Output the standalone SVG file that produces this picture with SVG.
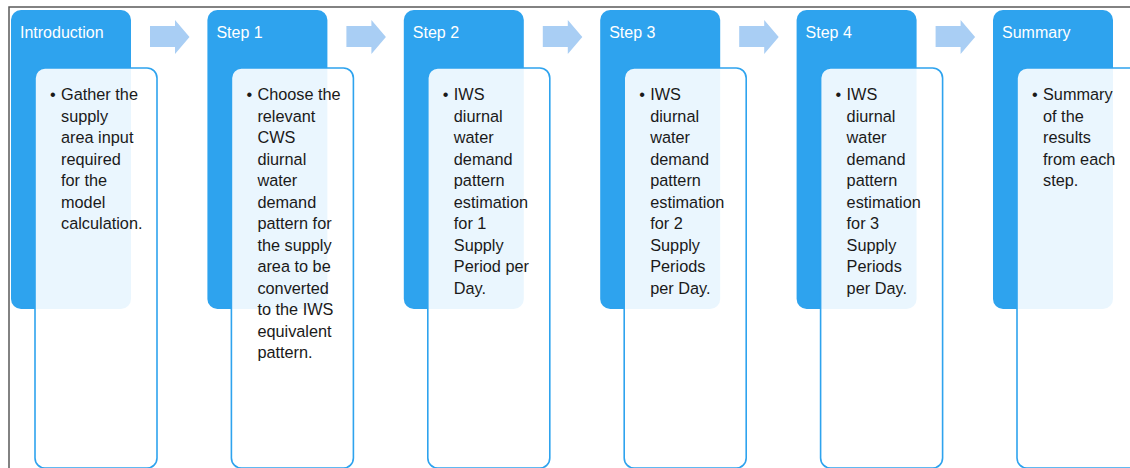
<svg xmlns="http://www.w3.org/2000/svg" width="1130" height="468" viewBox="0 0 1130 468">
<style>
.hdr{fill:#2EA3EE}
.body{fill:#ffffff;fill-opacity:0.9;stroke:#2EA3EE;stroke-width:1.6}
.arr{fill:#A9CEF4}
.ttl{font-family:"Liberation Sans",Arial,sans-serif;font-size:16px;fill:#ffffff}
.txt{font-family:"Liberation Sans",Arial,sans-serif;font-size:16.3px;fill:#1a1a1a}
.frame{stroke:#5a5a5a;stroke-width:1.5;fill:none}
</style>
<defs>
<path id="chev" d="M0,11 H25 V5 L39.5,22 L25,39 V32 H0 Z"/>
</defs>
<rect width="1130" height="468" fill="#ffffff"/>
<path class="frame" d="M1130,7 H9 V468"/>
<g id="connectors">
<use href="#chev" class="arr" x="150" y="15"/>
<use href="#chev" class="arr" x="346.4" y="15"/>
<use href="#chev" class="arr" x="542.8" y="15"/>
<use href="#chev" class="arr" x="739.2" y="15"/>
<use href="#chev" class="arr" x="935.6" y="15"/>
</g>
<g id="introduction">
<rect class="hdr" x="11" y="10" width="120" height="299" rx="10"/>
<text class="ttl" x="20" y="38">Introduction</text>
<rect class="body" x="35" y="68" width="122" height="400" rx="10"/>
<text class="txt" x="50" y="100">•</text>
<text class="txt" x="61" y="100"><tspan x="61">Gather the</tspan><tspan x="61" dy="21.5">supply</tspan><tspan x="61" dy="21.5">area input</tspan><tspan x="61" dy="21.5">required</tspan><tspan x="61" dy="21.5">for the</tspan><tspan x="61" dy="21.5">model</tspan><tspan x="61" dy="21.5">calculation.</tspan></text>
</g>
<g id="step1">
<rect class="hdr" x="207.4" y="10" width="120" height="299" rx="10"/>
<text class="ttl" x="216.4" y="38">Step 1</text>
<rect class="body" x="231.4" y="68" width="122" height="400" rx="10"/>
<text class="txt" x="246.4" y="100">•</text>
<text class="txt" x="257.4" y="100"><tspan x="257.4">Choose the</tspan><tspan x="257.4" dy="21.5">relevant</tspan><tspan x="257.4" dy="21.5">CWS</tspan><tspan x="257.4" dy="21.5">diurnal</tspan><tspan x="257.4" dy="21.5">water</tspan><tspan x="257.4" dy="21.5">demand</tspan><tspan x="257.4" dy="21.5">pattern for</tspan><tspan x="257.4" dy="21.5">the supply</tspan><tspan x="257.4" dy="21.5">area to be</tspan><tspan x="257.4" dy="21.5">converted</tspan><tspan x="257.4" dy="21.5">to the IWS</tspan><tspan x="257.4" dy="21.5">equivalent</tspan><tspan x="257.4" dy="21.5">pattern.</tspan></text>
</g>
<g id="step2">
<rect class="hdr" x="403.8" y="10" width="120" height="299" rx="10"/>
<text class="ttl" x="412.8" y="38">Step 2</text>
<rect class="body" x="427.8" y="68" width="122" height="400" rx="10"/>
<text class="txt" x="442.8" y="100">•</text>
<text class="txt" x="453.8" y="100"><tspan x="453.8">IWS</tspan><tspan x="453.8" dy="21.5">diurnal</tspan><tspan x="453.8" dy="21.5">water</tspan><tspan x="453.8" dy="21.5">demand</tspan><tspan x="453.8" dy="21.5">pattern</tspan><tspan x="453.8" dy="21.5">estimation</tspan><tspan x="453.8" dy="21.5">for 1</tspan><tspan x="453.8" dy="21.5">Supply</tspan><tspan x="453.8" dy="21.5">Period per</tspan><tspan x="453.8" dy="21.5">Day.</tspan></text>
</g>
<g id="step3">
<rect class="hdr" x="600.2" y="10" width="120" height="299" rx="10"/>
<text class="ttl" x="609.2" y="38">Step 3</text>
<rect class="body" x="624.2" y="68" width="122" height="400" rx="10"/>
<text class="txt" x="639.2" y="100">•</text>
<text class="txt" x="650.2" y="100"><tspan x="650.2">IWS</tspan><tspan x="650.2" dy="21.5">diurnal</tspan><tspan x="650.2" dy="21.5">water</tspan><tspan x="650.2" dy="21.5">demand</tspan><tspan x="650.2" dy="21.5">pattern</tspan><tspan x="650.2" dy="21.5">estimation</tspan><tspan x="650.2" dy="21.5">for 2</tspan><tspan x="650.2" dy="21.5">Supply</tspan><tspan x="650.2" dy="21.5">Periods</tspan><tspan x="650.2" dy="21.5">per Day.</tspan></text>
</g>
<g id="step4">
<rect class="hdr" x="796.6" y="10" width="120" height="299" rx="10"/>
<text class="ttl" x="805.6" y="38">Step 4</text>
<rect class="body" x="820.6" y="68" width="122" height="400" rx="10"/>
<text class="txt" x="835.6" y="100">•</text>
<text class="txt" x="846.6" y="100"><tspan x="846.6">IWS</tspan><tspan x="846.6" dy="21.5">diurnal</tspan><tspan x="846.6" dy="21.5">water</tspan><tspan x="846.6" dy="21.5">demand</tspan><tspan x="846.6" dy="21.5">pattern</tspan><tspan x="846.6" dy="21.5">estimation</tspan><tspan x="846.6" dy="21.5">for 3</tspan><tspan x="846.6" dy="21.5">Supply</tspan><tspan x="846.6" dy="21.5">Periods</tspan><tspan x="846.6" dy="21.5">per Day.</tspan></text>
</g>
<g id="summary">
<rect class="hdr" x="993" y="10" width="120" height="299" rx="10"/>
<text class="ttl" x="1002" y="38">Summary</text>
<rect class="body" x="1017" y="68" width="122" height="400" rx="10"/>
<text class="txt" x="1032" y="100">•</text>
<text class="txt" x="1043" y="100"><tspan x="1043">Summary</tspan><tspan x="1043" dy="21.5">of the</tspan><tspan x="1043" dy="21.5">results</tspan><tspan x="1043" dy="21.5">from each</tspan><tspan x="1043" dy="21.5">step.</tspan></text>
</g>
</svg>
